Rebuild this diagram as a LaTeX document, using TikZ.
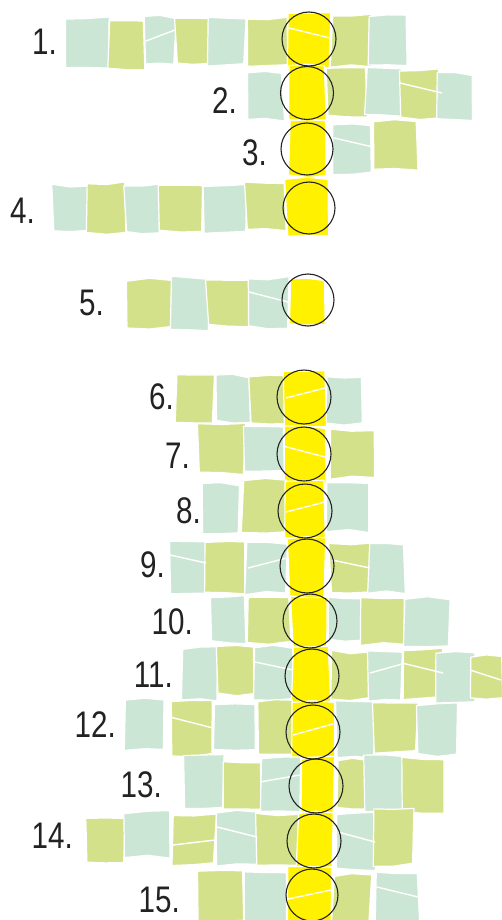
\documentclass[tikz,border=0pt]{standalone}
\usepackage{fontspec}
\newfontfamily\lblfont[FakeStretch=0.8]{Liberation Sans}
\definecolor{mint}{HTML}{CCE6D6}
\definecolor{lime}{HTML}{D3E28A}
\definecolor{yel}{HTML}{FFF100}
\definecolor{ink}{HTML}{222222}
\tikzset{
  tilestyle/.style={draw=white, line width=1.2pt, line join=round},
  crackstyle/.style={draw=white, line width=1.4pt},
  ring/.style={circle, draw=ink, line width=1.1pt, inner sep=0pt, minimum size=#1},
  ring/.default=54pt,
  lbl/.style={anchor=east, inner sep=0pt, text=ink, font=\lblfont\fontsize{37}{40}\selectfont}
}
\pgfmathsetseed{4242}
\newcommand\mytile[5]{%
  \pgfmathsetmacro\ja{1.8*rand}\pgfmathsetmacro\jb{1.8*rand}%
  \pgfmathsetmacro\jc{1.8*rand}\pgfmathsetmacro\jd{1.8*rand}%
  \pgfmathsetmacro\je{1.8*rand}\pgfmathsetmacro\jf{1.8*rand}%
  \pgfmathsetmacro\jg{1.8*rand}\pgfmathsetmacro\jh{1.8*rand}%
  \pgfmathsetmacro\ji{1.8*rand}\pgfmathsetmacro\jj{1.8*rand}%
  \filldraw[tilestyle, fill=#5]
    ({#1+\ja},{#3+\jb}) -- ({(#1+#2)/2},{#3+\jc}) -- ({#2+\jd},{#3+\je})
    -- ({#2+\jf},{#4+\jg}) -- ({(#1+#2)/2},{#4+\jh}) -- ({#1+\ji},{#4+\jj}) -- cycle;}
\newcommand\mycrack[4]{\draw[crackstyle] (#1,#2) -- (#3,#4);}
\begin{document}
\begin{tikzpicture}[x=1pt, y=-1pt]
\useasboundingbox (0,0) rectangle (501,920);
\fill[white] (0,0) rectangle (501,920);
% ---------- Row 1
\mytile{65}{109}{18}{67}{mint}
\mytile{109}{145}{20}{69}{lime}
\mytile{145}{175}{17}{64}{mint}
\mytile{176}{210}{17}{63}{lime}
\mytile{209}{245}{19}{65}{mint}
\mytile{246}{288}{19}{66}{lime}
\mytile{332}{370}{15}{66}{lime}
\mytile{369}{406}{15}{64}{mint}
\mytile{288}{330}{13}{68}{yel}
% ---------- Row 2
\mytile{247}{283}{73}{120}{mint}
\mytile{327}{367}{69}{117}{lime}
\mytile{366}{400}{68}{115}{mint}
\mytile{400}{440}{70}{118}{lime}
\mytile{437}{472}{74}{120}{mint}
\mytile{288}{325}{66}{121}{yel}
% ---------- Row 3
\mytile{333}{372}{124}{173}{mint}
\mytile{372}{417}{121}{170}{lime}
\mytile{290}{327}{120}{176}{yel}
% ---------- Row 4
\mytile{53}{88}{186}{230}{mint}
\mytile{88}{126}{183}{234}{lime}
\mytile{125}{159}{185}{232}{mint}
\mytile{159}{203}{184}{232}{lime}
\mytile{203}{247}{185}{233}{mint}
\mytile{246}{285}{183}{230}{lime}
\mytile{286}{328}{178}{235}{yel}
% ---------- Row 5
\mytile{127}{172}{280}{328}{lime}
\mytile{172}{208}{278}{329}{mint}
\mytile{207}{251}{279}{326}{lime}
\mytile{248}{288}{278}{327}{mint}
\mytile{289}{325}{279}{325}{yel}
% ---------- Row 6
\mytile{176}{213}{375}{423}{lime}
\mytile{215}{250}{376}{422}{mint}
\mytile{250}{288}{377}{423}{lime}
\mytile{326}{362}{378}{424}{mint}
\mytile{283}{325}{372}{428}{yel}
% ---------- Row 7
\mytile{199}{245}{425}{473}{lime}
\mytile{245}{283}{426}{472}{mint}
\mytile{330}{373}{430}{478}{lime}
\mytile{283}{325}{427}{483}{yel}
% ---------- Row 8
\mytile{203}{238}{484}{532}{mint}
\mytile{243}{288}{480}{533}{lime}
\mytile{327}{370}{483}{531}{mint}
\mytile{285}{325}{481}{538}{yel}
% ---------- Row 9
\mytile{169}{210}{540}{592}{mint}
\mytile{205}{245}{543}{593}{lime}
\mytile{246}{287}{543}{593}{mint}
\mytile{330}{372}{543}{593}{lime}
\mytile{368}{405}{545}{592}{mint}
\mytile{289}{325}{537}{597}{yel}
% ---------- Row 10
\mytile{210}{245}{597}{642}{mint}
\mytile{247}{290}{597}{643}{lime}
\mytile{328}{362}{598}{641}{mint}
\mytile{362}{405}{597}{644}{lime}
\mytile{405}{450}{598}{646}{mint}
\mytile{292}{326}{596}{648}{yel}
% ---------- Row 11
\mytile{183}{218}{648}{700}{mint}
\mytile{218}{255}{647}{694}{lime}
\mytile{255}{292}{647}{700}{mint}
\mytile{330}{370}{652}{699}{lime}
\mytile{369}{402}{651}{700}{mint}
\mytile{402}{442}{649}{698}{lime}
\mytile{437}{475}{653}{703}{mint}
\mytile{470}{503}{656}{698}{lime}
\mytile{293}{330}{648}{702}{yel}
% ---------- Row 12
\mytile{125}{165}{700}{750}{mint}
\mytile{170}{212}{701}{755}{lime}
\mytile{215}{255}{704}{749}{mint}
\mytile{257}{293}{700}{755}{lime}
\mytile{337}{375}{702}{757}{mint}
\mytile{374}{417}{703}{752}{lime}
\mytile{418}{457}{704}{755}{mint}
\mytile{292}{333}{702}{758}{yel}
% ---------- Row 13
\mytile{185}{223}{756}{808}{mint}
\mytile{225}{260}{762}{809}{lime}
\mytile{260}{300}{758}{812}{mint}
\mytile{337}{368}{759}{808}{lime}
\mytile{365}{405}{756}{812}{mint}
\mytile{403}{443}{758}{813}{lime}
\mytile{300}{333}{758}{812}{yel}
% ---------- Row 14
\mytile{86}{125}{818}{862}{lime}
\mytile{125}{170}{812}{857}{mint}
\mytile{173}{215}{815}{864}{lime}
\mytile{216}{258}{812}{865}{mint}
\mytile{257}{298}{815}{864}{lime}
\mytile{337}{377}{814}{869}{mint}
\mytile{373}{413}{810}{865}{lime}
\mytile{298}{333}{812}{868}{yel}
% ---------- Row 15
\mytile{199}{243}{871}{922}{lime}
\mytile{245}{288}{872}{922}{mint}
\mytile{333}{370}{875}{922}{lime}
\mytile{375}{418}{873}{922}{mint}
\mytile{288}{330}{868}{922}{yel}
% ---------- cracks
\mycrack{146}{41}{175}{30}
\mycrack{289}{28}{330}{38}
\mycrack{400}{83}{442}{93}
\mycrack{334}{138}{373}{147}
\mycrack{249}{292}{288}{302}
\mycrack{286}{398}{325}{388}
\mycrack{283}{446}{325}{457}
\mycrack{286}{512}{325}{502}
\mycrack{170}{555}{206}{563}
\mycrack{248}{568}{287}{558}
\mycrack{332}{560}{370}{568}
\mycrack{255}{662}{293}{670}
\mycrack{370}{673}{402}{664}
\mycrack{402}{663}{443}{673}
\mycrack{470}{670}{501}{680}
\mycrack{170}{717}{213}{728}
\mycrack{293}{735}{333}{724}
\mycrack{260}{782}{300}{775}
\mycrack{173}{845}{215}{840}
\mycrack{217}{827}{257}{837}
\mycrack{338}{832}{375}{842}
\mycrack{288}{899}{331}{890}
\mycrack{377}{887}{418}{897}
% ---------- circles
\node[ring] (c1) at (309,39) {};
\node[ring=53pt] (c2) at (307,93) {};
\node[ring=52pt] (c3) at (307,149) {};
\node[ring=52pt] (c4) at (309,208) {};
\node[ring=52pt] (c5) at (308,300) {};
\node[ring] (c6) at (304,397) {};
\node[ring] (c7) at (304,454) {};
\node[ring] (c8) at (305,511) {};
\node[ring] (c9) at (307,566) {};
\node[ring] (c10) at (310,621) {};
\node[ring] (c11) at (312,676) {};
\node[ring] (c12) at (313,732) {};
\node[ring] (c13) at (316,786) {};
\node[ring] (c14) at (314,841) {};
\node[ring=52pt] (c15) at (312,895) {};
% ---------- labels
\node[lbl] (l1) at (57,42) {1.};
\node[lbl] (l2) at (237,101) {2.};
\node[lbl] (l3) at (267,153) {3.};
\node[lbl] (l4) at (35,211) {4.};
\node[lbl] (l5) at (104,303) {5.};
\node[lbl] (l6) at (174,397) {6.};
\node[lbl] (l7) at (190,456) {7.};
\node[lbl] (l8) at (201,511) {8.};
\node[lbl] (l9) at (165,565) {9.};
\node[lbl] (l10) at (193,622) {10.};
\node[lbl] (l11) at (173,675) {11.};
\node[lbl] (l12) at (116,725) {12.};
\node[lbl] (l13) at (162,785) {13.};
\node[lbl] (l14) at (73,836) {14.};
\node[lbl] (l15) at (180,900) {15.};
\end{tikzpicture}
\end{document}
